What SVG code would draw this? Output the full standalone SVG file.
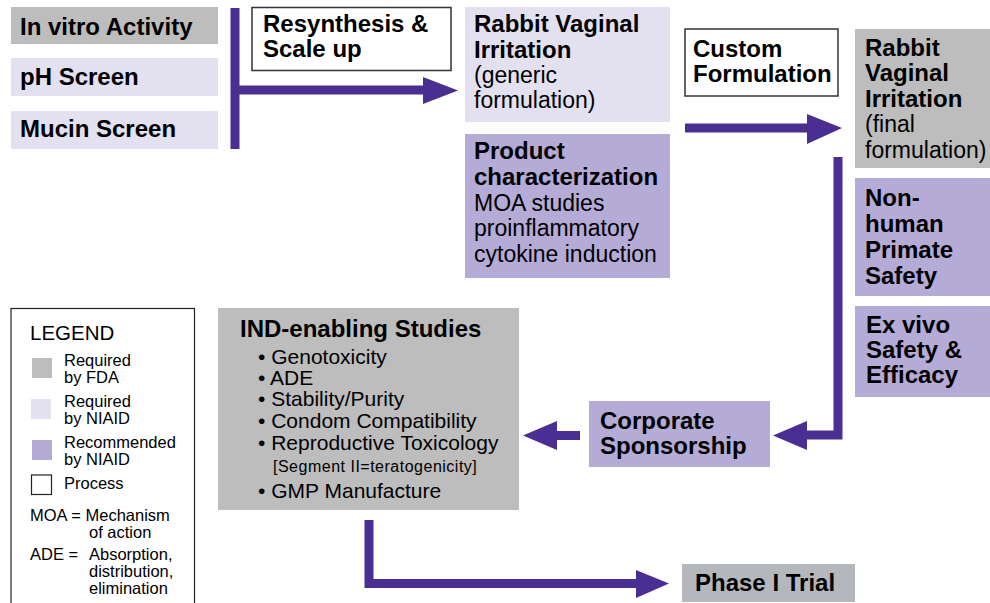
<svg xmlns="http://www.w3.org/2000/svg" width="990" height="603" viewBox="0 0 990 603">
<defs>
<style>
text{font-family:"Liberation Sans",Arial,Helvetica,sans-serif;fill:#000}
.b{font-weight:bold;font-size:24px}
.r{font-size:23px}
.l{font-size:16.5px}
.i{font-size:21px}
.fda{fill:#bdbdbd}
.niaid{fill:#e3e0f0}
.rec{fill:#b5abd7}
.proc{fill:#fff;stroke:#333;stroke-width:1.5}
.conn{fill:none;stroke:#4b2e91;stroke-width:9}
.head{fill:#4b2e91}
</style>
</defs>
<rect x="0" y="0" width="990" height="603" fill="#fff"/>

<g id="connectors">
<path class="conn" d="M235 8 V149"/>
<path class="conn" d="M235 90 H425"/>
<polygon class="head" points="423,77 458,90.5 423,104"/>
<path class="conn" d="M685 128 H810"/>
<polygon class="head" points="807,114 842,128 807,144"/>
<path class="conn" d="M838 157 V435 H805"/>
<polygon class="head" points="807,421 773,435.5 807,450"/>
<path class="conn" d="M580 435.5 H555"/>
<polygon class="head" points="557,421 523,435.5 557,450"/>
<path class="conn" d="M369 520 V583.5 H640"/>
<polygon class="head" points="636,570 669,583.5 636,598"/>
</g>

<g id="in-vitro"><rect class="fda" x="11" y="7" width="207" height="37"/><text class="b" x="20" y="35">In vitro Activity</text></g>
<g id="ph-screen"><rect class="niaid" x="11" y="58" width="207" height="38"/><text class="b" x="20" y="85">pH Screen</text></g>
<g id="mucin-screen"><rect class="niaid" x="11" y="111" width="207" height="38"/><text class="b" x="20" y="137">Mucin Screen</text></g>

<g id="resynthesis"><rect class="proc" x="252" y="7.5" width="199" height="63"/><text class="b" x="263" y="32">Resynthesis &amp;</text><text class="b" x="263" y="57">Scale up</text></g>

<g id="rabbit-generic"><rect class="niaid" x="465" y="7" width="205" height="115"/>
<text class="b" x="474" y="32">Rabbit Vaginal</text><text class="b" x="474" y="58">Irritation</text>
<text class="r" x="474" y="83">(generic</text><text class="r" x="474" y="108">formulation)</text></g>

<g id="product-characterization"><rect class="rec" x="465" y="134" width="205" height="144"/>
<text class="b" x="474" y="159">Product</text><text class="b" x="474" y="185">characterization</text>
<text class="r" x="474" y="211">MOA studies</text><text class="r" x="474" y="236">proinflammatory</text><text class="r" x="474" y="262">cytokine induction</text></g>

<g id="custom-formulation"><rect class="proc" x="685" y="29" width="153" height="67"/><text class="b" x="693" y="57">Custom</text><text class="b" x="693" y="82">Formulation</text></g>

<g id="rabbit-final"><rect class="fda" x="855" y="29" width="135" height="139"/>
<text class="b" x="865" y="56">Rabbit</text><text class="b" x="865" y="81">Vaginal</text><text class="b" x="865" y="107">Irritation</text>
<text class="r" x="865" y="132">(final</text><text class="r" x="865" y="158">formulation)</text></g>

<g id="non-human-primate"><rect class="rec" x="855" y="178" width="135" height="118"/>
<text class="b" x="865" y="206">Non-</text><text class="b" x="865" y="232">human</text><text class="b" x="865" y="258">Primate</text><text class="b" x="865" y="284">Safety</text></g>

<g id="ex-vivo"><rect class="rec" x="855" y="306" width="135" height="91"/>
<text class="b" x="866" y="333">Ex vivo</text><text class="b" x="866" y="358">Safety &amp;</text><text class="b" x="866" y="383">Efficacy</text></g>

<g id="corporate-sponsorship"><rect class="rec" x="589" y="401" width="181" height="66"/>
<text class="b" x="600" y="429">Corporate</text><text class="b" x="600" y="454">Sponsorship</text></g>

<g id="ind-enabling"><rect class="fda" x="218" y="308" width="301" height="202"/>
<text class="b" x="240" y="337">IND-enabling Studies</text>
<text class="i" x="258" y="364">• Genotoxicity</text>
<text class="i" x="258" y="385">• ADE</text>
<text class="i" x="258" y="406">• Stability/Purity</text>
<text class="i" x="258" y="428">• Condom Compatibility</text>
<text class="i" x="258" y="450">• Reproductive Toxicology</text>
<text x="273" y="472" font-size="16" letter-spacing="0.5">[Segment II=teratogenicity]</text>
<text class="i" x="258" y="498">• GMP Manufacture</text></g>

<g id="phase-1"><rect x="682" y="564" width="173" height="38" fill="#b4b8bc"/><text class="b" x="695" y="591">Phase I Trial</text></g>

<g id="legend"><rect x="11" y="308.5" width="183.5" height="310" fill="#fff" stroke="#222" stroke-width="1.2"/>
<text x="30" y="340" font-size="20.5">LEGEND</text>
<rect class="fda" x="32" y="358" width="20" height="20"/>
<text class="l" x="64" y="366">Required</text><text class="l" x="64" y="383">by FDA</text>
<rect class="niaid" x="31" y="399" width="20" height="20"/>
<text class="l" x="64" y="407">Required</text><text class="l" x="64" y="424">by NIAID</text>
<rect class="rec" x="32" y="440" width="20" height="20"/>
<text class="l" x="64" y="448">Recommended</text><text class="l" x="64" y="465">by NIAID</text>
<rect x="31.5" y="475" width="20" height="19.5" fill="#fff" stroke="#222" stroke-width="1.2"/>
<text class="l" x="64" y="489">Process</text>
<text class="l" x="30" y="521">MOA = Mechanism</text><text class="l" x="89" y="538">of action</text>
<text class="l" x="30" y="560">ADE =</text><text class="l" x="89" y="560">Absorption,</text>
<text class="l" x="89" y="577">distribution,</text><text class="l" x="89" y="594">elimination</text></g>
</svg>
